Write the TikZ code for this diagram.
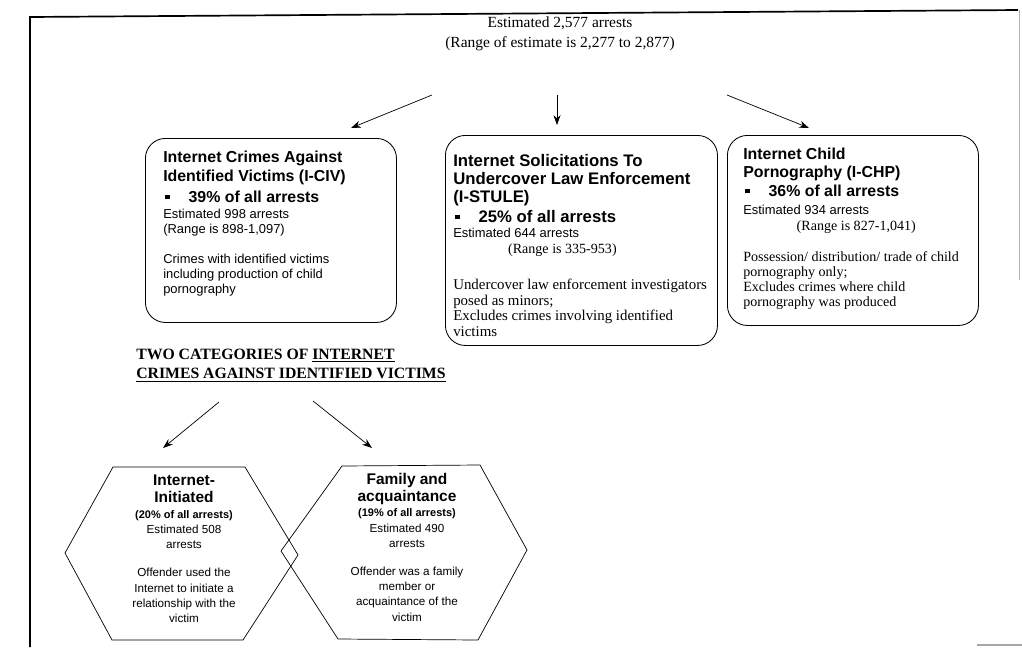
\documentclass[tikz,border=0pt]{standalone}
\usepackage{fontspec}
\setmainfont{Liberation Serif}
\setsansfont{Liberation Sans}
\usetikzlibrary{arrows.meta}

\newcommand{\cattitle}[1][11.3]{\bfseries\fontsize{#1}{13}\selectfont}
\newcommand{\catbullet}{\hspace*{1.5pt}\rule[2.5pt]{3pt}{3pt}\hspace{13.5pt}}
\newcommand{\descserif}[1][10]{\rmfamily\fontsize{#1}{11}\selectfont}
\newcommand{\hextitle}{\bfseries\fontsize{11}{12}\selectfont}
\newcommand{\hexshare}{\bfseries\fontsize{7.8}{9}\selectfont}

\begin{document}
\begin{tikzpicture}[x=0.025cm, y=-0.025cm]
        % Define styles
        \tikzset{
            catbox/.style={rectangle, draw, rounded corners=0.5cm, line width=0.6pt, anchor=north west},
            boxtext/.style={anchor=north west, align=left, inner sep=0pt, font=\sffamily\fontsize{9.2}{10.7}\selectfont},
            hextext/.style={anchor=north, align=center, inner sep=0pt, font=\sffamily\fontsize{8.3}{10.8}\selectfont},
            hexagon/.style={draw, line width=0.5pt, line join=miter},
            arrow/.style={-{Stealth[length=7pt, width=5pt]}, line width=0.5pt},
            frame/.style={line width=1.2pt}
        }
        \useasboundingbox (0,0) rectangle (1022,647);

        % Frame
        \draw[frame] (30,647) -- (30,17) -- (1018,10);
        \draw[gray!60, line width=0.4pt] (1019,10) -- (1019,280);
        \draw[gray!70, line width=0.8pt] (977,645) -- (1022,645);

        % Nodes
        \node[align=center, inner sep=0pt, font=\rmfamily\fontsize{11}{14.2}\selectfont] (total) at (560,34) {Estimated 2,577 arrests\\(Range of estimate is 2,277 to 2,877)};

        \node[catbox, minimum width=6.275cm, minimum height=4.6cm] (civ_box) at (145,138) {};
        \node[boxtext] (civ_text) at (163,151) {%
            {\cattitle Internet Crimes Against}\\[2.8pt]
            {\cattitle Identified Victims (I-CIV)}\\[4.3pt]
            {\cattitle\catbullet 39\% of all arrests}\\[0.3pt]
            Estimated 998 arrests\\
            (Range is 898-1,097)\\[10.6pt]
            Crimes with identified victims\\
            including production of child\\
            pornography};

        \node[catbox, minimum width=6.8cm, minimum height=5.25cm] (stule_box) at (445,135) {};
        \node[boxtext] (stule_text) at (453,154) {%
            {\cattitle[11.9]Internet Solicitations To}\\[2.1pt]
            {\cattitle[11.9]Undercover Law Enforcement}\\[2.1pt]
            {\cattitle[11.9](I-STULE)}\\[2.1pt]
            {\cattitle[11.9]\catbullet 25\% of all arrests}\\[0.3pt]
            Estimated 644 arrests\\[0.7pt]
            {\descserif\hspace*{39pt}(Range is 335-953)}\\[14.9pt]
            {\descserif[10.6]Undercover law enforcement investigators}\\[0.7pt]
            {\descserif[10.6]posed as minors;}\\
            {\descserif[10.6]Excludes crimes involving identified}\\[0.7pt]
            {\descserif[10.6]victims}};

        \node[catbox, minimum width=6.275cm, minimum height=4.75cm] (chp_box) at (727,135) {};
        \node[boxtext] (chp_text) at (743,148) {%
            {\cattitle Internet Child}\\[2.1pt]
            {\cattitle Pornography (I-CHP)}\\[2.8pt]
            {\cattitle\catbullet 36\% of all arrests}\\[1.7pt]
            Estimated 934 arrests\\[0.7pt]
            {\descserif\hspace*{38pt}(Range is 827-1,041)}\\[11.3pt]
            {\descserif Possession/ distribution/ trade of child}\\
            {\descserif pornography only;}\\
            {\descserif Excludes crimes where child}\\
            {\descserif pornography was produced}};

        \node[anchor=north west, align=left, inner sep=0pt, font=\rmfamily\bfseries\fontsize{11.2}{13.5}\selectfont] (two_cat) at (136,349) {TWO CATEGORIES OF \underline{INTERNET}\\\underline{CRIMES AGAINST IDENTIFIED VICTIMS}};

        % Hexagons
        \draw[hexagon] (65,553) -- (113,467) -- (245,467) -- (298,555) -- (243,640) -- (112,640) -- cycle;
        \draw[hexagon] (281,551) -- (342,466) -- (480,465) -- (527,550) -- (478,640) -- (338,639) -- cycle;

        \node[hextext] (ii_text) at (184,475) {%
            {\hextitle Internet-}\\[1.3pt]
            {\hextitle Initiated}\\[0.2pt]
            {\hexshare (20\% of all arrests)}\\
            Estimated 508\\
            arrests\\[9.2pt]
            Offender used the\\
            Internet to initiate a\\
            relationship with the\\
            victim};
        \node[hextext] (fa_text) at (407,473) {%
            {\hextitle Family and}\\[1.3pt]
            {\hextitle acquaintance}\\[0.2pt]
            {\hexshare (19\% of all arrests)}\\
            Estimated 490\\
            arrests\\[9.2pt]
            Offender was a family\\
            member or\\
            acquaintance of the\\
            victim};

        % Arrow ends
        \coordinate (total_l) at (432,95);
        \coordinate (total_m) at (557,95);
        \coordinate (total_r) at (727,95);
        \coordinate (civ_in) at (351,128);
        \coordinate (stule_in) at (557,125);
        \coordinate (chp_in) at (809,128);
        \coordinate (two_cat_l) at (219,402);
        \coordinate (two_cat_r) at (313,401);
        \coordinate (ii_in) at (163,448);
        \coordinate (fa_in) at (372,448);

        % Arrows
        \draw[arrow] (total_l) -- (civ_in);
        \draw[arrow] (total_m) -- (stule_in);
        \draw[arrow] (total_r) -- (chp_in);
        \draw[arrow] (two_cat_l) -- (ii_in);
        \draw[arrow] (two_cat_r) -- (fa_in);
    \end{tikzpicture}
\end{document}
